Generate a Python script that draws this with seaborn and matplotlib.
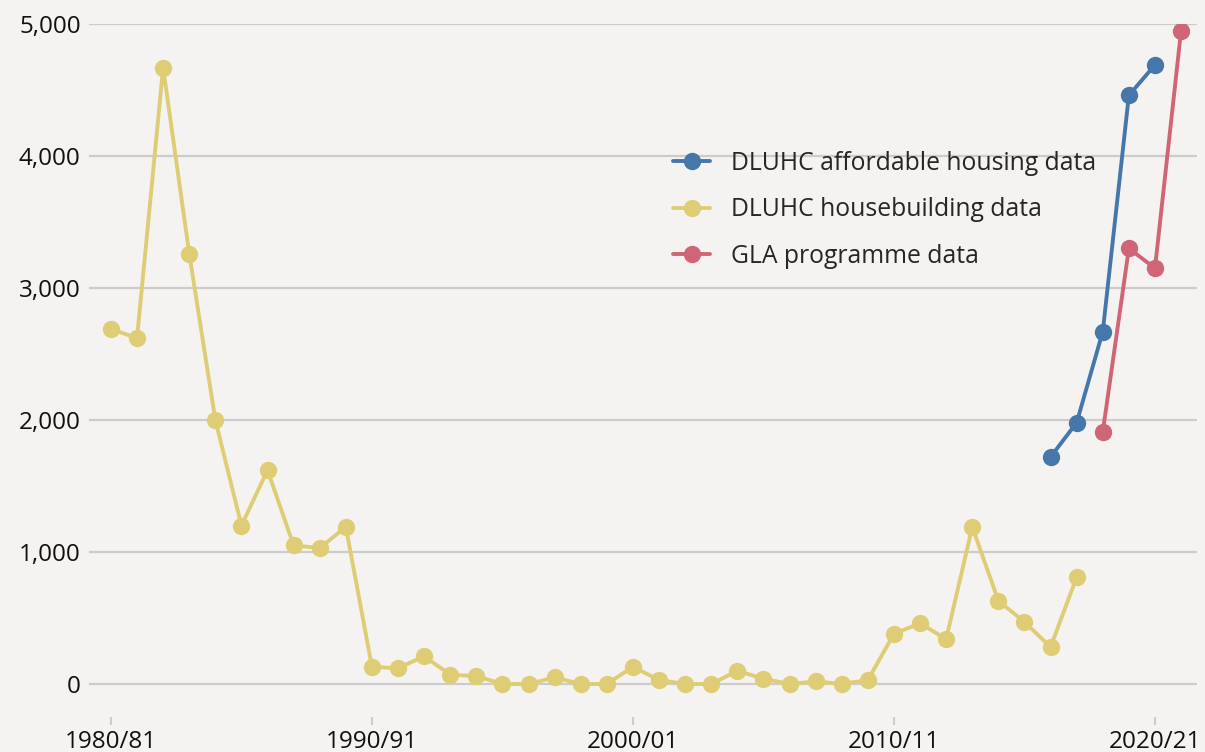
import matplotlib
matplotlib.use("Agg")
import matplotlib.pyplot as plt
import seaborn as sns
import pandas as pd

# Data (financial year start)
house_years = list(range(1980, 2018))
house_values = [2690, 2620, 4670, 3260, 2000, 1200, 1620, 1050, 1030, 1190,
                130, 120, 210, 70, 60, 0, 0, 50, 0, 0,
                130, 30, 0, 0, 100, 40, 0, 20, 0, 30,
                380, 460, 340, 1190, 630, 470, 280, 810]
afford_years = [2016, 2017, 2018, 2019, 2020]
afford_values = [1720, 1980, 2670, 4460, 4690]
gla_years = [2018, 2019, 2020, 2021]
gla_values = [1910, 3300, 3150, 4950]

series_names = ["DLUHC affordable housing data", "DLUHC housebuilding data", "GLA programme data"]
colors = ["#4677ab", "#dfcd76", "#d06576"]
tick_years = [1980, 1990, 2000, 2010, 2020]
tick_labels = ["1980/81", "1990/91", "2000/01", "2010/11", "2020/21"]
y_ticks = [0, 1000, 2000, 3000, 4000, 5000]

df = pd.concat([
    pd.DataFrame({"year": afford_years, "value": afford_values, "series": series_names[0]}),
    pd.DataFrame({"year": house_years, "value": house_values, "series": series_names[1]}),
    pd.DataFrame({"year": gla_years, "value": gla_values, "series": series_names[2]}),
], ignore_index=True)

sns.set_theme(style="white")
plt.rcParams["font.family"] = ["Open Sans", "DejaVu Sans"]
bg = "#f5f3f1"

fig = plt.figure(figsize=(12.05, 7.52), dpi=100, facecolor=bg)
ax = fig.add_axes([89 / 1205, 1 - 717 / 752, (1197 - 89) / 1205, (717 - 24) / 752])
ax.set_facecolor(bg)

for yv in y_ticks:
    ax.axhline(yv, color="#cccccc", lw=1.6, zorder=0)

sns.lineplot(data=df, x="year", y="value", hue="series", hue_order=series_names,
             palette=colors, marker="o", markersize=12.5, markeredgewidth=0,
             linewidth=2.8, ax=ax, legend=True, zorder=3)

ax.set_xlim(1979.16, 2021.61)
ax.set_ylim(-250, 5000)
ax.set_yticks(y_ticks)
ax.set_yticklabels([f"{v:,}" for v in y_ticks])
ax.set_xticks(tick_years)
ax.set_xticklabels(tick_labels)
ax.set_xlabel("")
ax.set_ylabel("")
for s in ax.spines.values():
    s.set_visible(False)
ax.tick_params(axis="y", length=0, pad=6, labelsize=17.5, labelcolor="#111111")
ax.tick_params(axis="x", length=6, width=1.5, color="#cccccc", pad=3, labelsize=17.5,
               labelcolor="#111111", bottom=True)

handles, labels = ax.get_legend_handles_labels()
ax.legend(handles, labels, loc="upper left", bbox_to_anchor=(673 / 1205, 1 - 151 / 752),
          bbox_transform=fig.transFigure, frameon=False, fontsize=17.8,
          borderpad=0, borderaxespad=0, handlelength=1.5, handletextpad=0.85,
          labelspacing=0.86)

fig.savefig("out.png", dpi=100, facecolor=bg)
